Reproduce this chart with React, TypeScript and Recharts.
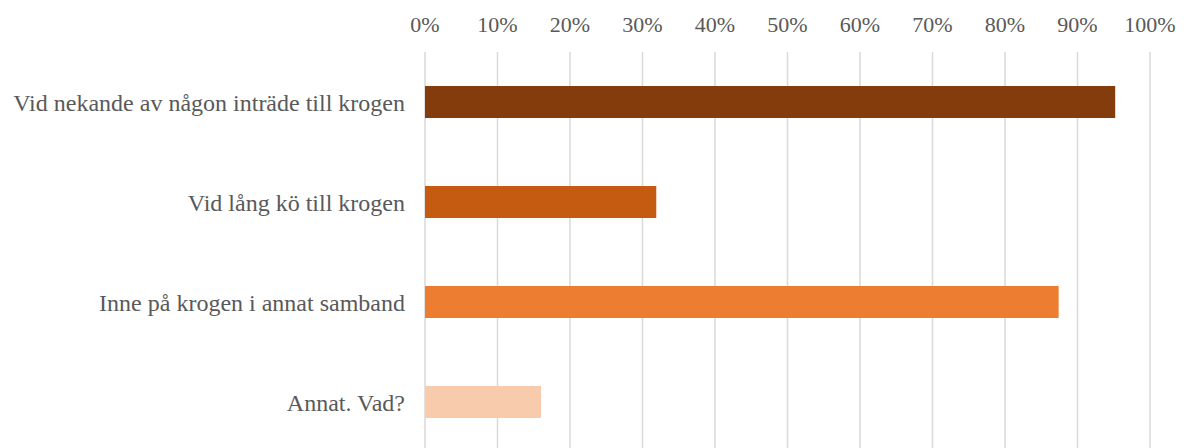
import { BarChart, Bar, XAxis, YAxis, CartesianGrid, Cell } from 'recharts'

const categories = [
  'Vid nekande av någon inträde till krogen',
  'Vid lång kö till krogen',
  'Inne på krogen i annat samband',
  'Annat. Vad?',
]
const shares = [0.952, 0.319, 0.874, 0.16]
const barColors = ['#843C0C', '#C55A11', '#ED7D31', '#F8CBAD']
const xTicks = [0, 0.1, 0.2, 0.3, 0.4, 0.5, 0.6, 0.7, 0.8, 0.9, 1]

const data = categories.map((name, i) => ({ name, value: shares[i] }))

const font = 'Liberation Serif, Times New Roman, serif'

export default function App() {
  return (
    <BarChart
      width={1178}
      height={452}
      data={data}
      layout="vertical"
      margin={{ top: 0, right: 36, bottom: 8, left: 0 }}
    >
      <CartesianGrid horizontal={false} stroke="#D9D9D9" strokeWidth={1.5} />
      <XAxis
        type="number"
        orientation="top"
        domain={[0, 1]}
        ticks={xTicks}
        height={44}
        axisLine={false}
        tickLine={false}
        tickSize={0}
        tickMargin={20}
        interval={0}
        tickFormatter={(v: number) => `${Math.round(v * 100)}%`}
        tick={{ fill: '#595959', fontSize: 22, fontFamily: font }}
      />
      <YAxis
        type="category"
        dataKey="name"
        width={417}
        axisLine={false}
        tickLine={false}
        tickSize={0}
        tickMargin={20}
        interval={0}
        tick={{ fill: '#595959', fontSize: 24, fontFamily: font }}
      />
      <Bar dataKey="value" barSize={32} isAnimationActive={false}>
        {data.map((entry, index) => (
          <Cell key={`cell-${index}`} fill={barColors[index]} />
        ))}
      </Bar>
    </BarChart>
  )
}
